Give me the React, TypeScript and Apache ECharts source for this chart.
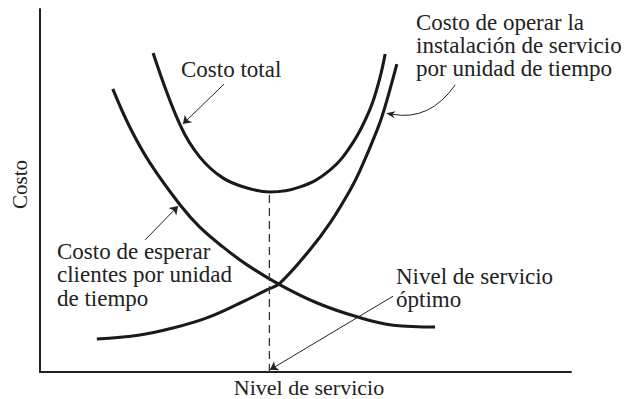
import React, { useEffect, useRef } from "react";
import * as echarts from "echarts";

// Curves (x: service level 0-100, y: cost 0-100)
const totalCost: number[][] = [
  [21.3, 87.9], [26.4, 68.0], [30.1, 59.2], [34.5, 53.4], [39.0, 50.7],
  [43.3, 49.6], [49.0, 51.0], [54.6, 55.6], [58.9, 63.1], [62.1, 72.2],
  [63.9, 80.4], [65.0, 87.6],
];
const waitingCost: number[][] = [
  [13.7, 78.0], [16.9, 67.5], [20.7, 57.6], [26.4, 46.0], [30.1, 39.9],
  [34.5, 34.4], [39.0, 29.5], [45.2, 24.0], [52.2, 19.0], [59.7, 15.2],
  [66.5, 12.9], [74.4, 12.4],
];
const operatingCost: number[][] = [
  [10.7, 9.1], [18.8, 10.2], [25.0, 12.1], [31.4, 14.9], [37.7, 19.0],
  [42.7, 22.6], [45.2, 24.5], [50.8, 33.6], [54.6, 41.0], [58.4, 50.1],
  [60.3, 55.6], [63.5, 66.7], [64.8, 72.2], [67.2, 84.8],
];
const optimumLevel = 43.2;
const optimumCost = 49.6;

// Straight annotation arrows: [from, to] in data coordinates
const straightArrows: number[][][] = [
  [[34.65, 79.3], [26.9, 68.3]],
  [[19.8, 36.4], [26.0, 45.7]],
  [[66.5, 20.9], [43.3, 0.6]],
];
// Curved arrow towards the operating-cost curve: from, to, curveness
const curvedArrow: number[][] = [[78.2, 79.1], [65.2, 71.3]];
const curvedArrowBend = 0.32;

const xAxisTitle = "Nivel de servicio";
const yAxisTitle = "Costo";
const labelTotal = "Costo total";
const labelOperating = "Costo de operar la\ninstalación de servicio\npor unidad de tiempo";
const labelWaiting = "Costo de esperar\nclientes por unidad\nde tiempo";
const labelOptimum = "Nivel de servicio\nóptimo";

const FONT = '"Liberation Serif", "Times New Roman", serif';
const INK = "#1a1a1a";

export default function App() {
  const ref = useRef<HTMLDivElement>(null);
  useEffect(() => {
    if (!ref.current) return;
    const chart = echarts.init(ref.current, undefined, { renderer: "svg" });
    const curveStyle = { color: INK, width: 3.1 };
    const textStyle = (text: string, lh: number) => ({
      text,
      fontSize: 23,
      fontFamily: FONT,
      fill: "#222",
      align: "left",
      verticalAlign: "top",
      lineHeight: lh,
    });
    const labels = [
      { type: "text", x: 181, y: 57.5, style: textStyle(labelTotal, 23) },
      { type: "text", x: 416, y: 10.5, style: textStyle(labelOperating, 23) },
      { type: "text", x: 57, y: 239.5, style: textStyle(labelWaiting, 23.5) },
      { type: "text", x: 396, y: 264.5, style: textStyle(labelOptimum, 23) },
    ];
    chart.setOption({
      animation: false,
      backgroundColor: "#fff",
      grid: { left: 40, top: 9, right: 55, bottom: 27, outerBoundsMode: "none", containLabel: false },
      xAxis: {
        type: "value",
        min: 0,
        max: 100,
        name: xAxisTitle,
        nameLocation: "middle",
        nameGap: 4,
        nameTextStyle: { fontSize: 22, fontFamily: FONT, color: "#222", padding: [0, 0, 0, 7] },
        axisLine: { show: true, lineStyle: { color: "#222", width: 2 } },
        axisTick: { show: false },
        axisLabel: { show: false },
        splitLine: { show: false },
      },
      yAxis: {
        type: "value",
        min: 0,
        max: 100,
        name: yAxisTitle,
        nameLocation: "middle",
        nameGap: 10,
        nameTextStyle: { fontSize: 21, fontFamily: FONT, color: "#222", padding: [0, 0, 0, 12] },
        axisLine: { show: true, lineStyle: { color: "#222", width: 2 } },
        axisTick: { show: false },
        axisLabel: { show: false },
        splitLine: { show: false },
      },
      series: [
        {
          name: "Costo total",
          type: "line",
          data: totalCost,
          smooth: 0.4,
          showSymbol: false,
          lineStyle: curveStyle,
          silent: true,
        },
        {
          name: "Costo de esperar",
          type: "line",
          data: waitingCost,
          smooth: 0.4,
          showSymbol: false,
          lineStyle: curveStyle,
          silent: true,
        },
        {
          name: "Costo de operar",
          type: "line",
          data: operatingCost,
          smooth: 0.4,
          showSymbol: false,
          lineStyle: curveStyle,
          silent: true,
        },
        {
          name: "Nivel óptimo",
          type: "line",
          data: [
            [optimumLevel, 0],
            [optimumLevel, optimumCost],
          ],
          showSymbol: false,
          lineStyle: { color: "#333", width: 1.3, type: [8, 5] },
          silent: true,
          markLine: {
            silent: true,
            symbol: ["none", "arrow"],
            symbolSize: 8,
            label: { show: false },
            emphasis: { disabled: true },
            lineStyle: { color: "#222", width: 1, type: "solid" },
            data: straightArrows.map((p) => [{ coord: p[0] }, { coord: p[1] }]),
          },
        },
      ],
      graphic: labels,
    });

    // Curved annotation arrow, positioned through the axes' own scales
    const p1 = chart.convertToPixel({ gridIndex: 0 }, curvedArrow[0]) as number[];
    const p2 = chart.convertToPixel({ gridIndex: 0 }, curvedArrow[1]) as number[];
    const cx = (p1[0] + p2[0]) / 2 - (p1[1] - p2[1]) * curvedArrowBend;
    const cy = (p1[1] + p2[1]) / 2 - (p2[0] - p1[0]) * curvedArrowBend;
    const dx = p2[0] - cx;
    const dy = p2[1] - cy;
    const len = Math.hypot(dx, dy) || 1;
    const ux = dx / len;
    const uy = dy / len;
    const L = 9;
    const W = 3.5;
    const bx = p2[0] - ux * L;
    const by = p2[1] - uy * L;
    const nx = p2[0] - ux * L * 0.7;
    const ny = p2[1] - uy * L * 0.7;
    chart.setOption({
      graphic: [
        ...labels,
        {
          type: "bezierCurve",
          silent: true,
          shape: {
            x1: p1[0], y1: p1[1], x2: nx, y2: ny, cpx1: cx, cpy1: cy,
          },
          style: { stroke: "#222", lineWidth: 1, fill: "none" },
        },
        {
          type: "polygon",
          silent: true,
          shape: {
            points: [
              [p2[0], p2[1]],
              [bx - uy * W, by + ux * W],
              [nx, ny],
              [bx + uy * W, by - ux * W],
            ],
          },
          style: { fill: "#222" },
        },
      ],
    });
    return () => chart.dispose();
  }, []);
  return (
    <div
      ref={ref}
      style={{ position: "absolute", left: 0, top: 0, width: 626, height: 399, background: "#fff" }}
    />
  );
}
